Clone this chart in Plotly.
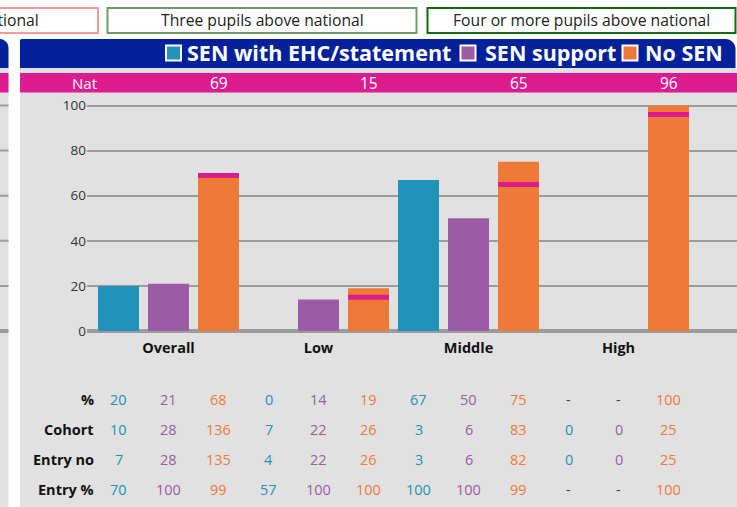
import plotly.graph_objects as go

W, H = 737, 507

# ---- data -------------------------------------------------------------
categories = ["Overall", "Low", "Middle", "High"]
series_names = ["SEN with EHC/statement", "SEN support", "No SEN"]

pct_ehc = [20, 0, 67, None]
pct_support = [21, 14, 50, None]
pct_no_sen = [68, 19, 75, 100]

cohort_ehc = [10, 7, 3, 0]
cohort_support = [28, 22, 6, 0]
cohort_no_sen = [136, 26, 83, 25]

entry_no_ehc = [7, 4, 3, 0]
entry_no_support = [28, 22, 6, 0]
entry_no_no_sen = [135, 26, 82, 25]

entry_pct_ehc = [70, 57, 100, None]
entry_pct_support = [100, 100, 100, None]
entry_pct_no_sen = [99, 100, 99, 100]

national = [69, 15, 65, 96]

y_ticks = [0, 20, 40, 60, 80, 100]
key_labels = ["Two pupils above national", "Three pupils above national",
              "Four or more pupils above national"]

# ---- styling ----------------------------------------------------------
FONT = "Open Sans"
TEAL, PURPLE, ORANGE = "#2192b9", "#9c5ba6", "#ee7a37"
MAGENTA = "#db1b8e"
NAVY = "#03219b"
PANEL = "#e1e1e1"
GRID = "#9b9b9b"
series_colors = [TEAL, PURPLE, ORANGE]


def px(x):
    return x / W


def py(y):
    return 1 - y / H


fig = go.Figure()

series_values = [pct_ehc, pct_support, pct_no_sen]
for j, (name, vals, col) in enumerate(zip(series_names, series_values, series_colors)):
    fig.add_bar(x=categories, y=vals, name=name,
                marker=dict(color=col, line=dict(width=0)),
                offsetgroup=str(j), showlegend=False, hoverinfo="skip")

# national benchmark drawn as a thin band on the No SEN bars
band = 2.2
fig.add_bar(x=categories, y=[band] * len(national),
            base=[n - band / 2 for n in national],
            marker=dict(color=MAGENTA, line=dict(width=0)),
            offsetgroup="2", showlegend=False, hoverinfo="skip")

shapes = []


def rect(x0, y0, x1, y1, fill):
    shapes.append(dict(type="rect", xref="paper", yref="paper",
                       x0=px(x0), x1=px(x1), y0=py(y1), y1=py(y0),
                       fillcolor=fill, layer="below", line=dict(width=0)))


def header(x0, x1, y0, y1, r_left, r_right, fill):
    # filled bar with rounded top corners
    k = 0.45
    p = (f"M{px(x0)},{py(y1)} "
         f"L{px(x0)},{py(y0 + r_left)} "
         f"C{px(x0)},{py(y0 + r_left * k)} {px(x0 + r_left * k)},{py(y0)} {px(x0 + r_left)},{py(y0)} "
         f"L{px(x1 - r_right)},{py(y0)} "
         f"C{px(x1 - r_right * k)},{py(y0)} {px(x1)},{py(y0 + r_right * k)} {px(x1)},{py(y0 + r_right)} "
         f"L{px(x1)},{py(y1)} Z")
    shapes.append(dict(type="path", xref="paper", yref="paper", path=p,
                       fillcolor=fill, line=dict(width=0), layer="below"))


# neighbouring panel on the left edge
rect(-2, 68, 8.5, H + 2, PANEL)
header(-12, 8.5, 39, 68, 0, 9, NAVY)
rect(-2, 73, 8.5, 92.5, MAGENTA)
# main panel
rect(20, 68, W + 2, H + 2, PANEL)
header(20, 735.5, 39, 68, 2, 10, NAVY)
rect(20, 73, W + 2, 92.5, MAGENTA)

# grid stubs of the neighbouring panel
for t in y_ticks:
    shapes.append(dict(type="line", xref="paper", yref="y", x0=px(-2), x1=px(8.5),
                       y0=t, y1=t, layer="below",
                       line=dict(color=GRID, width=4 if t == 0 else 2)))

annotations = []

# key boxes along the top
key_boxes = [(-212, 98, "#f49a9a"), (107.5, 416.5, "#6b996b"), (427.5, 735.5, "#0f6a12")]
for label, (x0, x1, col) in zip(key_labels, key_boxes):
    shapes.append(dict(type="rect", xref="paper", yref="paper",
                       x0=px(x0), x1=px(x1), y0=py(33), y1=py(8),
                       fillcolor="white", line=dict(color=col, width=2)))
    annotations.append(dict(xref="paper", yref="paper", x=px((x0 + x1) / 2), y=py(20.5),
                            text=label, showarrow=False, xanchor="center", yanchor="middle",
                            font=dict(family=FONT, size=15.7, color="#222222")))

# series key inside the header
key_pos = [(166, 187), (460.5, 485), (622.5, 645)]
for name, col, (sx, tx) in zip(series_names, series_colors, key_pos):
    shapes.append(dict(type="rect", xref="paper", yref="paper",
                       x0=px(sx), x1=px(sx + 15), y0=py(60.5), y1=py(45.5),
                       fillcolor=col, line=dict(color="white", width=2)))
    annotations.append(dict(xref="paper", yref="paper", x=px(tx - 2), y=py(52.5),
                            text=name, showarrow=False, xanchor="left", yanchor="middle",
                            font=dict(family=FONT, size=21.5, color="white", weight="bold")))

# national row
annotations.append(dict(xref="paper", yref="paper", x=px(84), y=py(82.5), text="Nat",
                        showarrow=False, xanchor="center", yanchor="middle",
                        font=dict(family=FONT, size=15, color="white")))
for i, n in enumerate(national):
    annotations.append(dict(xref="x", yref="paper", x=i + 1 / 3, y=py(82.5), text=str(n),
                            showarrow=False, xanchor="center", yanchor="middle",
                            font=dict(family=FONT, size=15.5, color="white")))

# data table under the chart
table_rows = [
    ("%", [pct_ehc, pct_support, pct_no_sen]),
    ("Cohort", [cohort_ehc, cohort_support, cohort_no_sen]),
    ("Entry no", [entry_no_ehc, entry_no_support, entry_no_no_sen]),
    ("Entry %", [entry_pct_ehc, entry_pct_support, entry_pct_no_sen]),
]
row_y = [400, 430, 460, 490]
for (label, rows), ry in zip(table_rows, row_y):
    annotations.append(dict(xref="paper", yref="paper", x=px(95.5), y=py(ry - 0.5), text=label,
                            showarrow=False, xanchor="right", yanchor="middle",
                            font=dict(family=FONT, size=14.5, color="#111111", weight="bold")))
    for i in range(len(categories)):
        for j, (vals, col) in enumerate(zip(rows, series_colors)):
            v = vals[i]
            annotations.append(dict(
                xref="x", yref="paper", x=i + (j - 1) / 3, y=py(ry - 0.5),
                text="-" if v is None else str(v), showarrow=False,
                xanchor="center", yanchor="middle",
                font=dict(family=FONT, size=14.5, color="#444444" if v is None else col)))

# plot area placement
y_lo, y_hi = -2, 104
y_zero_px, unit_px = 331, 2.255
plot_top = y_zero_px - y_hi * unit_px
plot_bot = y_zero_px - y_lo * unit_px
cat_px, first_px, left_px = 150, 168.5, 87

fig.update_layout(
    width=W, height=H,
    margin=dict(l=0, r=0, t=0, b=0, autoexpand=False),
    paper_bgcolor="white", plot_bgcolor="rgba(0,0,0,0)",
    barmode="group", bargap=0, bargroupgap=0.18,
    shapes=shapes, annotations=annotations,
    font=dict(family=FONT),
    xaxis=dict(type="category", domain=[px(left_px), 1], automargin=False,
               range=[-(first_px - left_px) / cat_px, (W - first_px) / cat_px],
               showgrid=False, zeroline=False, showline=False, ticks="",
               ticklabelstandoff=2,
               tickfont=dict(family=FONT, size=14.5, color="#111111", weight="bold"),
               fixedrange=True),
    yaxis=dict(domain=[py(plot_bot), py(plot_top)], range=[y_lo, y_hi], automargin=False,
               tickvals=y_ticks, showgrid=True, gridcolor=GRID, gridwidth=2,
               zeroline=True, zerolinecolor=GRID, zerolinewidth=4,
               showline=False, ticks="",
               tickfont=dict(family=FONT, size=13.5, color="#333333"),
               fixedrange=True),
)

fig.write_html("out.html", config={"displayModeBar": False})
